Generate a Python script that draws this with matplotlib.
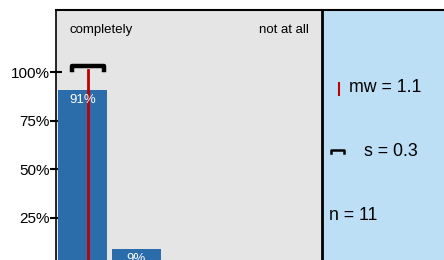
import matplotlib.pyplot as plt

# data
categories = [1, 2, 3, 4, 5]
shares = [0.91, 0.09, 0.0, 0.0, 0.0]
bar_labels = ['91%', '9%', '', '', '']
mean_value = 1.1
std_value = 0.3
n_value = 11
left_label = 'completely'
right_label = 'not at all'
yticks = [0.25, 0.5, 0.75, 1.0]
ytick_labels = ['25%', '50%', '75%', '100%']

plt.rcParams['font.family'] = ['Liberation Sans', 'DejaVu Sans']

fig = plt.figure(figsize=(4.44, 2.6), dpi=100)
ax = fig.add_axes([56 / 444, 0, 266 / 444, 250 / 260])
ax.set_facecolor('#e5e5e5')

ymin, ymax = 0.0335, 1.322
ax.set_xlim(0.51, 5.435)
ax.set_ylim(ymin, ymax)

ax.bar(categories, shares, width=0.9, color='#2b6cab', zorder=2)
for x, h, lab in zip(categories, shares, bar_labels):
    if lab:
        ax.annotate(lab, (x, h), xytext=(0, -7.5), textcoords='offset points',
                    ha='center', va='center', color='white', fontsize=9.5, zorder=4)

# mean line + std bracket
yb, yc = 1.034, 1.013
ax.plot([mean_value, mean_value], [ymin, yc], color='#c00000', lw=2, zorder=3)
ax.plot([mean_value - std_value, mean_value - std_value,
         mean_value + std_value, mean_value + std_value],
        [yc, yb, yb, yc], color='black', lw=3.2, zorder=5)

ax.set_xticks([])
ax.set_yticks(yticks)
ax.set_yticklabels(ytick_labels, fontsize=11)
ax.tick_params(axis='y', direction='inout', length=8.5, width=1.5, pad=0.5)
for s in ['bottom', 'right']:
    ax.spines[s].set_visible(False)
ax.spines['left'].set_linewidth(1.2)
ax.spines['top'].set_linewidth(1.5)

ax.text(0.049, 0.92, left_label, transform=ax.transAxes, ha='left', va='center', fontsize=9.5)
ax.text(0.951, 0.92, right_label, transform=ax.transAxes, ha='right', va='center', fontsize=9.5)

# side panel with stats
ax2 = fig.add_axes([322 / 444, 0, 122 / 444, 250 / 260])
ax2.set_facecolor('#bddff6')
ax2.set_xlim(0, 1)
ax2.set_ylim(0, 1)
ax2.set_xticks([])
ax2.set_yticks([])
for s in ['bottom', 'right']:
    ax2.spines[s].set_visible(False)
ax2.spines['left'].set_linewidth(2)
ax2.spines['top'].set_linewidth(1.5)

ax2.plot([0.139, 0.139], [0.66, 0.708], color='#c00000', lw=1.5)
ax2.text(0.221, 0.688, f'mw = {mean_value}', ha='left', va='center', fontsize=12.8)
ax2.plot([0.07, 0.07, 0.18, 0.18], [0.43, 0.44, 0.44, 0.43], color='black', lw=1.8)
ax2.text(0.342, 0.436, f's = {std_value}', ha='left', va='center', fontsize=12.8)
ax2.text(0.057, 0.18, f'n = {n_value}', ha='left', va='center', fontsize=12.8)

fig.savefig('out.png', dpi=100)
